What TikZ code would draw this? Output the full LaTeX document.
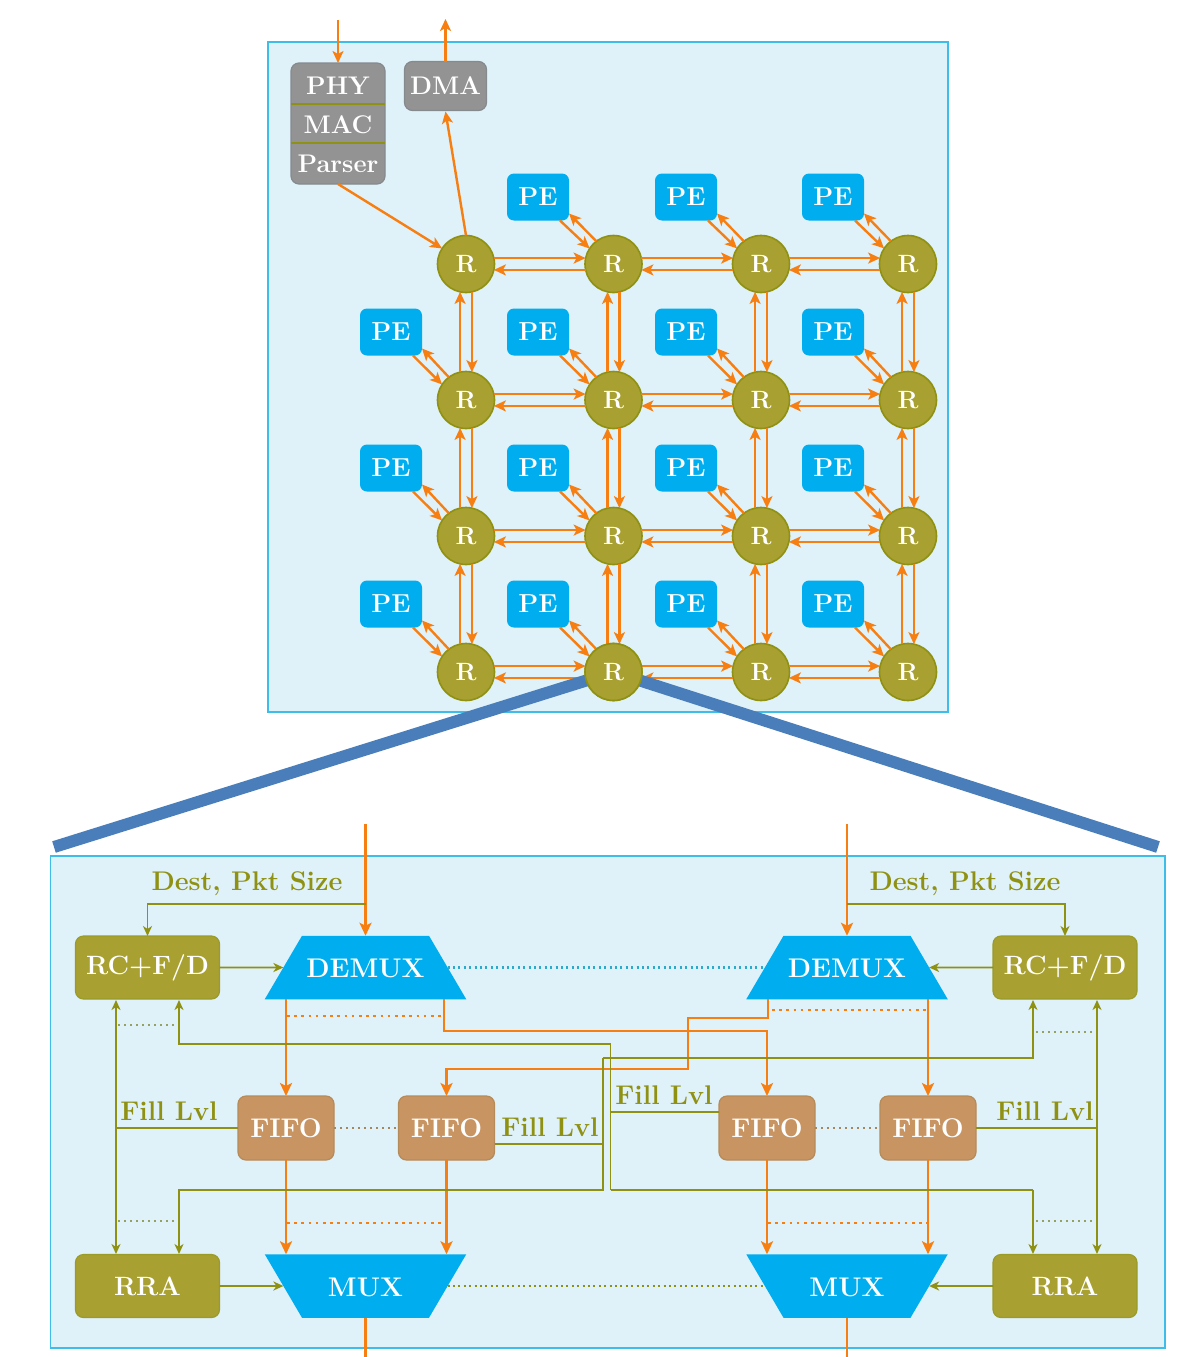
\documentclass[tikz,border=0pt]{standalone}
\usepackage{fontspec}
\usetikzlibrary{arrows.meta,calc,shapes.geometric}
\definecolor{panelfill}{HTML}{DFF1F9}
\definecolor{paneledge}{HTML}{3DBDE8}
\definecolor{wire}{HTML}{F77F12}
\definecolor{olv}{HTML}{8F9112}
\definecolor{olvfill}{HTML}{A8A030}
\definecolor{cyanbox}{HTML}{00ADEE}
\definecolor{fifofill}{HTML}{C89461}
\definecolor{fifoedge}{HTML}{B58B5A}
\definecolor{grayfill}{HTML}{939393}
\definecolor{grayedge}{HTML}{858A8E}
\definecolor{zoomline}{HTML}{4A7EBB}
\definecolor{dotgray}{HTML}{96A060}
\definecolor{dotfifo}{HTML}{A8865C}
\definecolor{dotblue}{HTML}{2FA9C9}
\newcommand{\muxbody}{\rule{127pt}{0pt}\rule{0pt}{63.5pt}}
\tikzset{
  panel/.style={draw=paneledge,fill=panelfill,line width=1.8pt},
  wirearrow/.style={draw=wire,line width=2.4pt,-{Stealth[length=12pt,width=11pt,inset=3pt]}},
  wirebig/.style={draw=wire,line width=2.8pt,-{Stealth[length=13pt,width=12pt,inset=3pt]}},
  wireplain/.style={draw=wire,line width=2.8pt},
  ctrl/.style={draw=olv,line width=1.9pt,-{Stealth[length=10pt,width=9pt,inset=3pt]}},
  ctrlboth/.style={draw=olv,line width=1.9pt,{Stealth[length=10pt,width=9pt,inset=3pt]}-{Stealth[length=10pt,width=9pt,inset=3pt]}},
  ctrlplain/.style={draw=olv,line width=1.9pt},
  dots/.style={line width=2.8pt,dash pattern=on 2.6pt off 4.6pt},
  dotsfine/.style={line width=2.6pt,dash pattern=on 2pt off 3.4pt},
  dotsfifo/.style={line width=2.4pt,dash pattern=on 2.2pt off 3.8pt},
  dotsthin/.style={line width=1.8pt,dash pattern=on 1.8pt off 4.2pt},
  router/.style={circle,draw=olv,fill=olvfill,line width=1.6pt,minimum size=57pt,inner sep=0pt,outer sep=0pt,text=white,font=\fontsize{25}{25}\selectfont\bfseries},
  pebox/.style={rectangle,rounded corners=7pt,fill=cyanbox,minimum width=62pt,minimum height=47pt,inner sep=0pt,outer sep=0pt,text=white,font=\fontsize{26}{26}\selectfont\bfseries},
  graybox/.style={rectangle,rounded corners=8pt,draw=grayedge,fill=grayfill,line width=1.2pt,inner sep=0pt,outer sep=0pt},
  graytext/.style={inner sep=0pt,text=white,font=\fontsize{25.5}{25.5}\selectfont\bfseries},
  olvbox/.style={rectangle,rounded corners=8pt,draw=olv!90!white,fill=olvfill,line width=1.2pt,minimum width=144pt,minimum height=63pt,inner sep=0pt,outer sep=0pt,text=white,font=\fontsize{26.5}{26.5}\selectfont\bfseries},
  fifobox/.style={rectangle,rounded corners=8pt,draw=fifoedge,fill=fifofill,line width=1.2pt,minimum width=96pt,minimum height=64pt,inner sep=0pt,outer sep=0pt,text=white,font=\fontsize{27}{27}\selectfont\bfseries},
  muxshape/.style={trapezium,trapezium left angle=59.6,trapezium right angle=59.6,fill=cyanbox,inner sep=0pt,outer sep=0pt},
  muxtext/.style={inner sep=0pt,text=white,font=\fontsize{27}{27}\selectfont\bfseries},
  lbl/.style={inner sep=0pt,text=olv,font=\fontsize{27}{27}\selectfont\bfseries},
  zoomedge/.style={draw=zoomline,line width=12pt},
}
\begin{document}
\begin{tikzpicture}[x=1pt,y=-1pt]
\useasboundingbox (0,0) rectangle (1178,1357);
% panels
\path[panel] (268,42) rectangle (948,712);
\path[panel] (50.5,856) rectangle (1165,1348);
% routers and PEs
\foreach \y/\i in {264/1,400/2,536/3,672/4}
  \foreach \x/\j in {466/1,613.5/2,761/3,908/4}
    \node[router] (r-\i-\j) at (\x,\y) {R};
\foreach \y/\i in {197/1,332/2,468/3,604/4}
  \foreach \x/\j in {391/1,538/2,686/3,833/4}{
    \ifnum\i\j=11\relax\else
      \node[pebox] (p-\i-\j) at (\x,\y) {PE};
      \draw[wirearrow] ($(p-\i-\j.south east)+(-9,0)$) -- (r-\i-\j.147);
      \draw[wirearrow] (r-\i-\j.127) -- ($(p-\i-\j.south east)+(0,-7)$);
    \fi
  }
% router links
\foreach \i in {1,2,3,4}
  \foreach \j/\k in {1/2,2/3,3/4}{
    \draw[wirearrow] (r-\i-\j.12) -- (r-\i-\k.168);
    \draw[wirearrow] (r-\i-\k.192) -- (r-\i-\j.348);
  }
\foreach \j in {1,2,3,4}
  \foreach \i/\k in {1/2,2/3,3/4}{
    \draw[wirearrow] (r-\k-\j.102) -- (r-\i-\j.258);
    \draw[wirearrow] (r-\i-\j.282) -- (r-\k-\j.78);
  }
% network interface
\node[graybox,minimum width=94pt,minimum height=121pt] (stack) at (338,123.5) {};
\node[graytext] (phy) at (338,86) {PHY};
\node[graytext] (mac) at (338,125) {MAC};
\node[graytext] (parser) at (338,164) {Parser};
\draw[olv,line width=1.6pt] (stack.west |- 0,104) -- (stack.east |- 0,104);
\draw[olv,line width=1.6pt] (stack.west |- 0,143) -- (stack.east |- 0,143);
\node[graybox,minimum width=82pt,minimum height=49pt,graytext,inner sep=0pt] (dma) at (445.5,86) {DMA};
\coordinate (netin) at (338,20);
\coordinate (dmaout) at (445.5,19);
\draw[wirearrow] (netin) -- (stack.north);
\draw[wirearrow] (dma.north) -- (dmaout);
\draw[wirearrow] (stack.south) -- (r-1-1.147);
\draw[wirearrow] (r-1-1.north) -- ($(dma.south)+(0,1)$);
% zoom lines
\coordinate (zl) at (54,847);
\coordinate (zr) at (1158,847);
\draw[zoomedge] (r-4-2) -- (zl);
\draw[zoomedge] (r-4-2) -- (zr);
\node[router] at (r-4-2) {R};
% router detail nodes
\node[olvbox] (rcl) at (147.5,967.5) {RC+F/D};
\node[olvbox] (rcr) at (1065,967.5) {RC+F/D};
\node[olvbox] (rral) at (147.5,1286) {RRA};
\node[olvbox] (rrar) at (1065,1286) {RRA};
\node[muxshape] (dl) at (365.5,967.5) {\muxbody};
\node[muxshape] (dr) at (847,967.5) {\muxbody};
\node[muxshape,shape border rotate=180] (ml) at (365.5,1286) {\muxbody};
\node[muxshape,shape border rotate=180] (mr) at (847,1286) {\muxbody};
\node[muxtext] (dlt) at (365.5,968) {DEMUX};
\node[muxtext] (drt) at (847,968) {DEMUX};
\node[muxtext] (mlt) at (365.5,1287) {MUX};
\node[muxtext] (mrt) at (847,1287) {MUX};
\node[fifobox] (f1) at (286,1128) {FIFO};
\node[fifobox] (f2) at (446.5,1128) {FIFO};
\node[fifobox] (f3) at (767,1128) {FIFO};
\node[fifobox] (f4) at (928,1128) {FIFO};
% free ends
\coordinate (inl) at (365.5,824);
\coordinate (inr) at (847,824);
\coordinate (outl) at (365.5,1357);
\coordinate (outr) at (847,1357);
\coordinate (tapl) at (365.5,904);
\coordinate (tapr) at (847,904);
% orange data paths
\draw[wirebig] (inl) -- (dl.north);
\draw[wirebig] (inr) -- (dr.north);
\draw[wireplain] (ml.south) -- (outl);
\draw[wireplain] (mr.south) -- (outr);
\draw[wirebig] (f1.north |- dl.south) -- (f1.north);
\draw[wirebig] (f4.north |- dr.south) -- (f4.north);
\draw[wirebig] (444,999) |- (767,1031) -- (f3.north);
\draw[wirebig] (768,999) |- (688,1018) |- (446.5,1069) -- (f2.north);
\draw[wirebig] (f1.south) -- (f1.south |- ml.north);
\draw[wirebig] (f2.south) -- (f2.south |- ml.north);
\draw[wirebig] (f3.south) -- (f3.south |- mr.north);
\draw[wirebig] (f4.south) -- (f4.south |- mr.north);
% olive control paths
\draw[ctrl] (tapl) -| (rcl.north);
\draw[ctrl] (tapr) -| (rcr.north);
\draw[ctrl] (rcl) -- (dl);
\draw[ctrl] (rcr) -- (dr);
\draw[ctrl] (rral) -- (ml);
\draw[ctrl] (rrar) -- (mr);
\draw[ctrlboth] (116,1000) -- (116,1254);
\draw[ctrlboth] (1097,1000) -- (1097,1254);
\draw[ctrlplain] (f1.west) -- (116,1128);
\draw[ctrlplain] (f4.east) -- (1097,1128);
\draw[ctrlplain] ($(f2.east)+(0,16)$) -- (603,1144);
\draw[ctrlplain] ($(f3.west)+(0,-16)$) -- (610.5,1112);
\draw[ctrl] (1033,1190) -- (1033,1254);
\draw[ctrlplain] (610.5,1190) -- (1033,1190);
\draw[ctrl] (610.5,1190) |- (179,1044) -- (179,1000);
\draw[ctrl] (603,1058) |- (179,1190) -- (179,1254);
\draw[ctrl] (603,1058) -| (1033,1000);
% dotted association lines
\draw[dotsfine,dotblue] (dl.east) -- (dr.west);
\draw[dotsfine,olv] (ml.east) -- (mr.west);
\draw[dots,wire] (287,1016) -- (441,1016);
\draw[dots,wire] (772,1010) -- (928,1010);
\draw[dots,wire] (287,1223) -- (446,1223);
\draw[dots,wire] (768,1223) -- (928,1223);
\draw[dotsfifo,dotfifo] (f1.east) -- (f2.west);
\draw[dotsfifo,dotfifo] (f3.east) -- (f4.west);
\draw[dotsthin,dotgray] (118,1025) -- (176,1025);
\draw[dotsthin,dotgray] (118,1221) -- (176,1221);
\draw[dotsthin,dotgray] (1036,1032) -- (1094,1032);
\draw[dotsthin,dotgray] (1036,1221) -- (1094,1221);
% labels
\node[lbl] (lab1) at (247,884) {Dest, Pkt Size};
\node[lbl] (lab2) at (965,884) {Dest, Pkt Size};
\node[lbl] (lab3) at (169,1111) {Fill Lvl};
\node[lbl] (lab4) at (550,1127) {Fill Lvl};
\node[lbl] (lab5) at (664,1095) {Fill Lvl};
\node[lbl] (lab6) at (1045,1111) {Fill Lvl};
\end{tikzpicture}
\end{document}
